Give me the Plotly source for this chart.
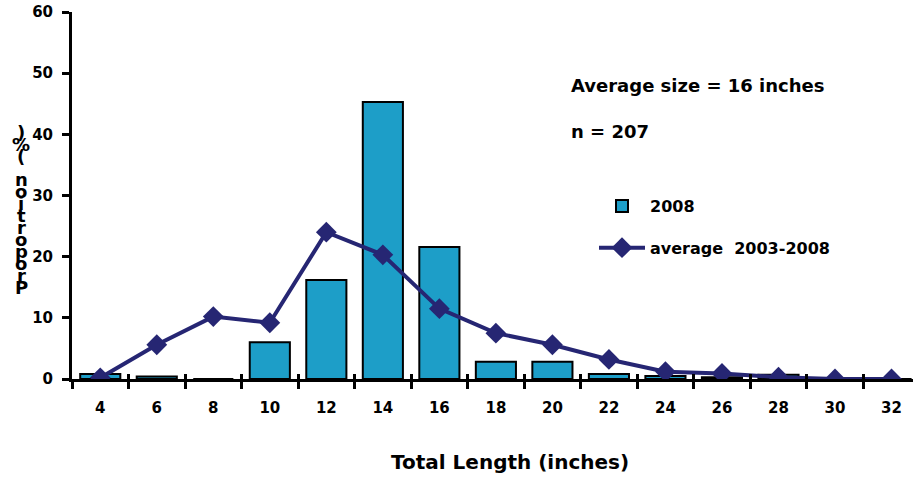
import plotly.graph_objects as go

categories = ["4", "6", "8", "10", "12", "14", "16", "18", "20", "22", "24", "26", "28", "30", "32"]
bars_2008 = [0.8, 0.4, 0.0, 6.0, 16.2, 45.3, 21.6, 2.8, 2.8, 0.8, 0.5, 0.3, 0.7, 0.0, 0.0]
avg_2003_2008 = [0.2, 5.6, 10.2, 9.2, 24.0, 20.3, 11.5, 7.5, 5.6, 3.2, 1.2, 0.9, 0.3, 0.0, 0.0]
y_ticks = [0, 10, 20, 30, 40, 50, 60]
y_label = "Proportion (%)"
note1 = "Average size = 16 inches"
note2 = "n = 207"
x_title = "Total Length (inches)"

FONT = "DejaVu Sans, Verdana, sans-serif"

L, T = 72, 12
PW, PH = 913 - 72, 379 - 12


def px_x(p):
    return (p - 72) / PW


def px_y(p):
    return (379 - p) / PH


fig = go.Figure()
fig.add_trace(go.Bar(
    x=categories, y=bars_2008, name="<b>2008</b>", legendgroup="a",
    marker=dict(color="#1d9ec8", line=dict(color="black", width=2)),
))
fig.add_trace(go.Scatter(
    x=categories, y=avg_2003_2008, name="<b>average  2003-2008</b>", legendgroup="b",
    mode="lines+markers",
    line=dict(color="#262673", width=4),
    marker=dict(symbol="diamond", size=16, color="#262673"),
))
# overlay axis used only to draw the upper half of the crossing x ticks
fig.add_trace(go.Scatter(
    x=categories, y=[None] * len(categories), xaxis="x2", yaxis="y",
    showlegend=False, hoverinfo="skip", mode="markers",
))

annotations = [
    dict(text=f"<b>{note1}</b>", xref="paper", yref="paper",
         x=px_x(569), y=px_y(86), xanchor="left", yanchor="middle",
         showarrow=False, font=dict(family=FONT, size=18, color="black")),
    dict(text=f"<b>{note2}</b>", xref="paper", yref="paper",
         x=px_x(569), y=px_y(131), xanchor="left", yanchor="middle",
         showarrow=False, font=dict(family=FONT, size=18, color="black")),
    dict(text=f"<b>{x_title}</b>", xref="paper", yref="paper",
         x=px_x(510), y=px_y(462), xanchor="center", yanchor="middle",
         showarrow=False, font=dict(family=FONT, size=20, color="black")),
]
# stacked upright characters of the y-axis label, reading bottom to top
for i, ch in enumerate(y_label):
    if ch == " ":
        continue
    py = 287 - i * 11.9
    annotations.append(dict(
        text=f"<b>{ch}</b>", xref="paper", yref="paper",
        x=px_x(21), y=px_y(py), xanchor="center", yanchor="middle",
        showarrow=False, font=dict(family=FONT, size=18, color="black")))

fig.update_layout(
    width=913, height=478,
    margin=dict(l=L, r=0, t=T, b=478 - T - PH, autoexpand=False),
    paper_bgcolor="white", plot_bgcolor="white",
    font=dict(family=FONT, size=15, color="black"),
    bargap=0.29,
    showlegend=True,
    legend=dict(x=px_x(594), y=px_y(189), xanchor="left", yanchor="top",
                bgcolor="rgba(0,0,0,0)", font=dict(family=FONT, size=16, color="black"),
                tracegroupgap=18, itemwidth=46),
    annotations=annotations,
    xaxis=dict(
        type="category", range=[-0.5, 14.38],
        showline=True, linecolor="black", linewidth=3,
        ticks="outside", ticklen=7, tickwidth=3, tickcolor="black",
        tickson="boundaries", showgrid=False,
        tickvals=categories, ticktext=[f"<b>{c}</b>" for c in categories],
        tickfont=dict(family=FONT, size=15, color="black"),
        ticklabelstandoff=13,
    ),
    xaxis2=dict(
        type="category", overlaying="x", matches="x", anchor="y", side="bottom",
        showline=False, ticks="inside", ticklen=5, tickwidth=3, tickcolor="black",
        tickson="boundaries", showgrid=False, showticklabels=False,
        tickvals=categories,
    ),
    yaxis=dict(
        range=[0, 60], tickvals=y_ticks, ticktext=[f"<b>{v}</b>" for v in y_ticks],
        showline=True, linecolor="black", linewidth=3,
        ticks="outside", ticklen=7, tickwidth=3, tickcolor="black",
        showgrid=False, zeroline=False,
        tickfont=dict(family=FONT, size=15, color="black"),
        ticklabelstandoff=6,
    ),
)

fig.write_html(
    "out.html",
    config={"displayModeBar": False},
    post_script="document.body.style.margin='0';document.body.style.overflow='hidden';",
)
